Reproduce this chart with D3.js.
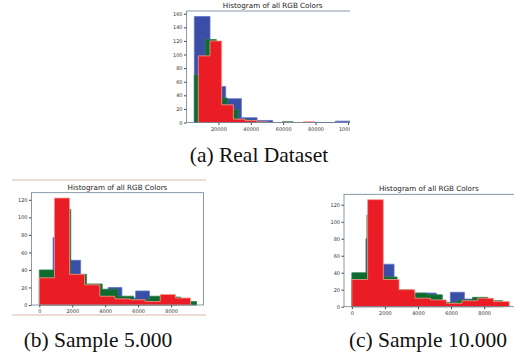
<!DOCTYPE html>
<html lang="en">
<head>
<meta charset="UTF-8">
<title>Histogram of all RGB Colors</title>
<script src="https://d3js.org/d3.v7.min.js"></script>
<style>
  body { margin: 0; background: #fff; }
  svg { display: block; }
  .tick text { font-family: "DejaVu Sans", sans-serif; font-size: 5px; fill: #333; }
  .title { font-family: "DejaVu Sans", sans-serif; font-size: 7.2px; fill: #222; }
  .caption { font-family: "Liberation Serif", "Times New Roman", serif; font-size: 21.5px; fill: #111; }
</style>
</head>
<body>
<svg id="chart" width="514" height="354"></svg>
<script>
// (a) Real Dataset - counts per bin, each colour binned over its own range
const aBlueRange = [5150, 102000];
const aBlueCounts = [156, 53, 35, 7, 3, 0, 0, 0, 0, 2];
const aGreenRange = [5150, 73000];
const aGreenCounts = [70, 122, 36, 19, 4, 1, 0, 0, 1, 0];
const aRedRange = [7600, 79700];
const aRedCounts = [98, 120, 26, 5, 3, 1, 0, 0, 0, 1];
const aXTicks = [20000, 40000, 60000, 80000, 100000];
const aYTicks = [0, 20, 40, 60, 80, 100, 120, 140, 160];

// (b) Sample 5.000
const bBlueRange = [0, 8360];
const bBlueCounts = [30, 77, 51, 22, 14, 20, 8, 16, 7, 9];
const bGreenRange = [0, 9550];
const bGreenCounts = [40, 109, 35, 24, 18, 10, 6, 10, 9, 4];
const bRedRange = [0, 9180];
const bRedCounts = [31, 122, 35, 23, 10, 7, 6, 4, 12, 8];
const bXTicks = [0, 2000, 4000, 6000, 8000];
const bYTicks = [0, 20, 40, 60, 80, 100, 120];

// (c) Sample 10.000
const cBlueRange = [0, 8510];
const cBlueCounts = [30, 80, 50, 18, 16, 16, 4, 17, 9, 6];
const cGreenRange = [0, 9120];
const cGreenCounts = [40, 108, 35, 20, 16, 14, 5, 8, 11, 7];
const cRedRange = [0, 9520];
const cRedCounts = [32, 126, 32, 20, 10, 8, 4, 7, 10, 6];
const cXTicks = [0, 2000, 4000, 6000, 8000];
const cYTicks = [0, 20, 40, 60, 80, 100, 120];

const captions = ['(a) Real Dataset', '(b) Sample 5.000', '(c) Sample 10.000'];

const colors = { blue: '#3a4ea8', green: '#0d6b30', red: '#ea1c25' };
const edges = { blue: '#5f72c8', green: '#2f7f48', red: '#f49a88' };

const svg = d3.select('#chart');

// faint figure frames from the pasted screenshots
svg.append('line').attr('x1', 12).attr('x2', 206).attr('y1', 180).attr('y2', 180)
  .attr('stroke', '#d9b9ab').attr('stroke-width', 1);
svg.append('line').attr('x1', 12).attr('x2', 206).attr('y1', 315).attr('y2', 315)
  .attr('stroke', '#d9b9ab').attr('stroke-width', 1);

function panel(id, box, xDomain, yMax, series, xTicks, yTicks, clipRight) {
  const x = d3.scaleLinear().domain(xDomain).range([box.left, box.right]);
  const y = d3.scaleLinear().domain([0, yMax]).range([box.bottom, box.top]);

  svg.append('clipPath').attr('id', 'clip-' + id)
    .append('rect').attr('x', box.left - 40).attr('y', box.top - 20)
    .attr('width', clipRight - box.left + 40).attr('height', box.bottom - box.top + 40);

  const g = svg.append('g').attr('clip-path', 'url(#clip-' + id + ')');

  g.append('rect').attr('x', box.left).attr('y', box.top)
    .attr('width', box.right - box.left).attr('height', box.bottom - box.top)
    .attr('fill', '#fff');

  const line = d3.line().x(d => x(d[0])).y(d => y(d[1]));
  series.forEach(s => {
    const [lo, hi] = s.range;
    const w = (hi - lo) / s.counts.length;
    const pts = [[lo, 0]];
    s.counts.forEach((c, i) => {
      pts.push([lo + i * w, c]);
      pts.push([lo + (i + 1) * w, c]);
    });
    pts.push([hi, 0]);
    g.append('path').attr('d', line(pts) + 'Z')
      .attr('fill', colors[s.name])
      .attr('stroke', edges[s.name])
      .attr('stroke-width', 0.8)
      .attr('stroke-linejoin', 'miter');
  });

  g.append('g').attr('transform', `translate(0,${box.bottom})`)
    .call(d3.axisBottom(x).tickValues(xTicks).tickFormat(d3.format('d')).tickSize(2.5).tickPadding(2))
    .call(a => a.select('.domain').remove())
    .call(a => a.selectAll('.tick line').attr('stroke', '#444'));
  g.append('g').attr('transform', `translate(${box.left},0)`)
    .call(d3.axisLeft(y).tickValues(yTicks).tickSize(2.5).tickPadding(1.5))
    .call(a => a.select('.domain').remove())
    .call(a => a.selectAll('.tick line').attr('stroke', '#444'));

  g.append('rect').attr('x', box.left).attr('y', box.top)
    .attr('width', box.right - box.left).attr('height', box.bottom - box.top)
    .attr('fill', 'none').attr('stroke', '#6c8096').attr('stroke-width', 0.8);

  svg.append('text').attr('class', 'title')
    .attr('x', (box.left + box.right) / 2 + box.titleShift).attr('y', box.top - 3)
    .attr('text-anchor', 'middle').text('Histogram of all RGB Colors');
}

function seriesOf(br, bc, gr, gc, rr, rc) {
  return [
    { name: 'blue', range: br, counts: bc },
    { name: 'green', range: gr, counts: gc },
    { name: 'red', range: rr, counts: rc }
  ];
}

panel('a', { left: 186.5, right: 359, top: 11, bottom: 122.5, titleShift: 0 },
  [310, 106840], 164,
  seriesOf(aBlueRange, aBlueCounts, aGreenRange, aGreenCounts, aRedRange, aRedCounts),
  aXTicks, aYTicks, 350);

panel('b', { left: 31.5, right: 203.5, top: 192.7, bottom: 305, titleShift: 0 },
  [-475, 9970], 128.1,
  seriesOf(bBlueRange, bBlueCounts, bGreenRange, bGreenCounts, bRedRange, bRedCounts),
  bXTicks, bYTicks, 210);

panel('c', { left: 344, right: 516.7, top: 194.3, bottom: 306.7, titleShift: -1.5 },
  [-475, 9970], 132.3,
  seriesOf(cBlueRange, cBlueCounts, cGreenRange, cGreenCounts, cRedRange, cRedCounts),
  cXTicks, cYTicks, 514);

svg.append('text').attr('class', 'caption').attr('x', 259).attr('y', 162)
  .attr('text-anchor', 'middle').text(captions[0]);
svg.append('text').attr('class', 'caption').attr('x', 98).attr('y', 347)
  .attr('text-anchor', 'middle').text(captions[1]);
svg.append('text').attr('class', 'caption').attr('x', 428).attr('y', 347)
  .attr('text-anchor', 'middle').text(captions[2]);
</script>
</body>
</html>
